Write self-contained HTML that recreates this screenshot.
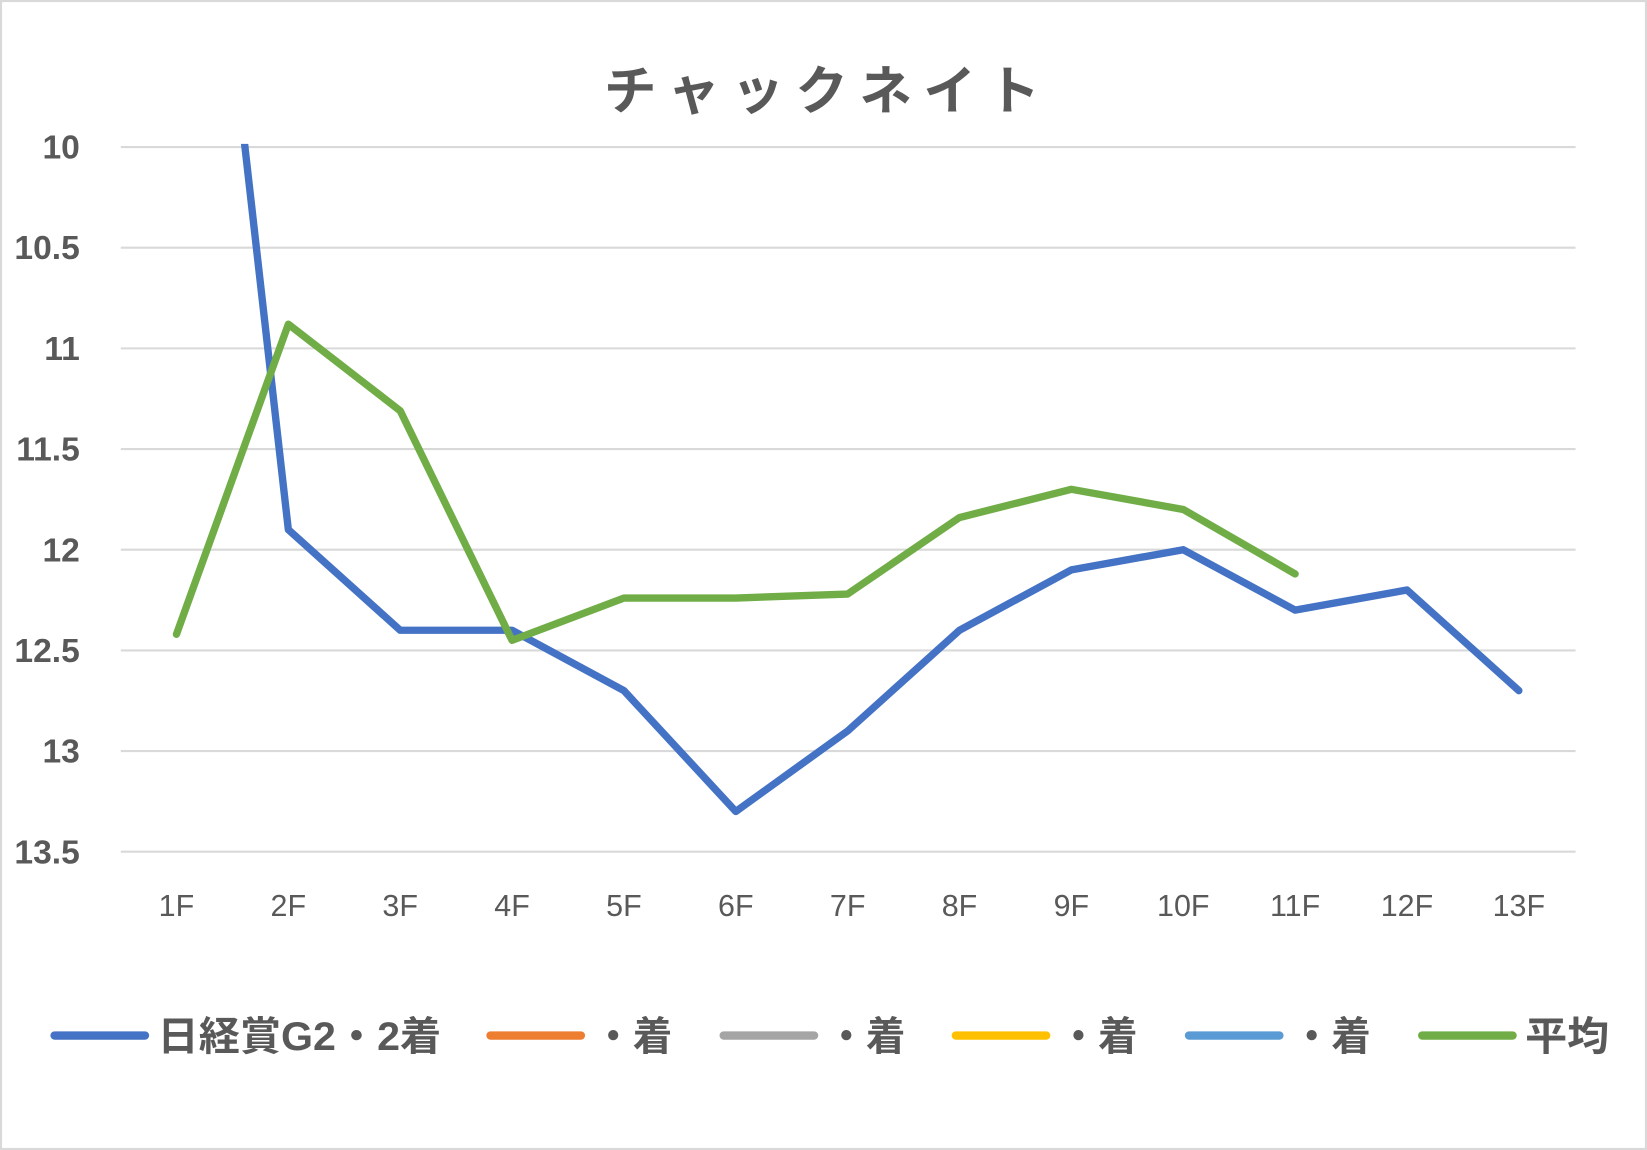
<!DOCTYPE html>
<html><head><meta charset="utf-8"><style>
html,body{margin:0;padding:0;background:#fff}
svg{display:block}
text{font-family:"Liberation Sans","Noto Sans CJK JP",sans-serif;fill:#595959}
</style></head><body>
<svg width="1647" height="1150" viewBox="0 0 1568 1095" preserveAspectRatio="none" xmlns="http://www.w3.org/2000/svg">
<rect x="1" y="1" width="1566" height="1093" fill="#fff" stroke="#d9d9d9" stroke-width="2"/>
<text x="575" y="104" font-size="50" font-weight="bold" textLength="415" lengthAdjust="spacing">チャックネイト</text>
<defs><clipPath id="plotclip"><rect x="100" y="137" width="1420" height="700"/></clipPath></defs>
<g id="grid"></g><g id="yticks"></g><g id="xticks"></g>
<g id="series" clip-path="url(#plotclip)"></g>
<g id="legend"></g>
</svg>
<script>
const categories=["1F","2F","3F","4F","5F","6F","7F","8F","9F","10F","11F","12F","13F"];
const yTicks=[10,10.5,11,11.5,12,12.5,13,13.5];
const seriesBlue=[7.0,11.9,12.4,12.4,12.7,13.3,12.9,12.4,12.1,12.0,12.3,12.2,12.7];
const seriesAvg=[12.42,10.88,11.31,12.45,12.24,12.24,12.22,11.84,11.70,11.80,12.12];
const legendLabels=["日経賞G2・2着","・着","・着","・着","・着","平均"];
const legendColors=["#4472c4","#ed7d31","#a5a5a5","#ffc000","#5b9bd5","#70ad47"];
const NS="http://www.w3.org/2000/svg";
function y(v){return 140+(v-10)/3.5*671;}
function x(i){return 168+i*106.5;}
function mk(tag,attrs,parent){const e=document.createElementNS(NS,tag);for(const k in attrs)e.setAttribute(k,attrs[k]);parent.appendChild(e);return e;}
const grid=document.getElementById('grid'),yt=document.getElementById('yticks'),xt=document.getElementById('xticks'),ser=document.getElementById('series'),lg=document.getElementById('legend');
yTicks.forEach(v=>{
  const l=mk('line',{x1:115,x2:1500,y1:y(v),y2:y(v),stroke:'#d9d9d9','stroke-width':2},grid);
  
  
  const t=mk('text',{x:76,y:y(v)+11,'text-anchor':'end','font-size':32,'font-weight':'bold'},yt);
  t.textContent=String(v);
  
  
});
categories.forEach((c,i)=>{
  const t=mk('text',{x:x(i),y:872,'text-anchor':'middle','font-size':29},xt);
  t.textContent=c;
  
  
});
function line(vals,color,name){
  const p=mk('polyline',{points:vals.map((v,i)=>x(i)+','+y(v)).join(' '),fill:'none',stroke:color,'stroke-width':7,'stroke-linejoin':'round','stroke-linecap':'round'},ser);
  
  
}
line(seriesBlue,legendColors[0],'series-nikkei-line');
line(seriesAvg,legendColors[5],'series-average-line');
const lx=[52,467,689,910,1132,1354];
const lw=[270,75,75,75,75,80];
legendLabels.forEach((s,i)=>{
  const g=mk('g',{},lg);
  
  
  mk('line',{x1:lx[i],x2:lx[i]+86,y1:986,y2:986,stroke:legendColors[i],'stroke-width':8,'stroke-linecap':'round'},g);
  const t=mk('text',{x:lx[i]+98,y:1000,'font-size':38,'font-weight':'bold',textLength:lw[i],lengthAdjust:'spacingAndGlyphs'},g);
  t.textContent=s;
});
</script>
</body></html>
